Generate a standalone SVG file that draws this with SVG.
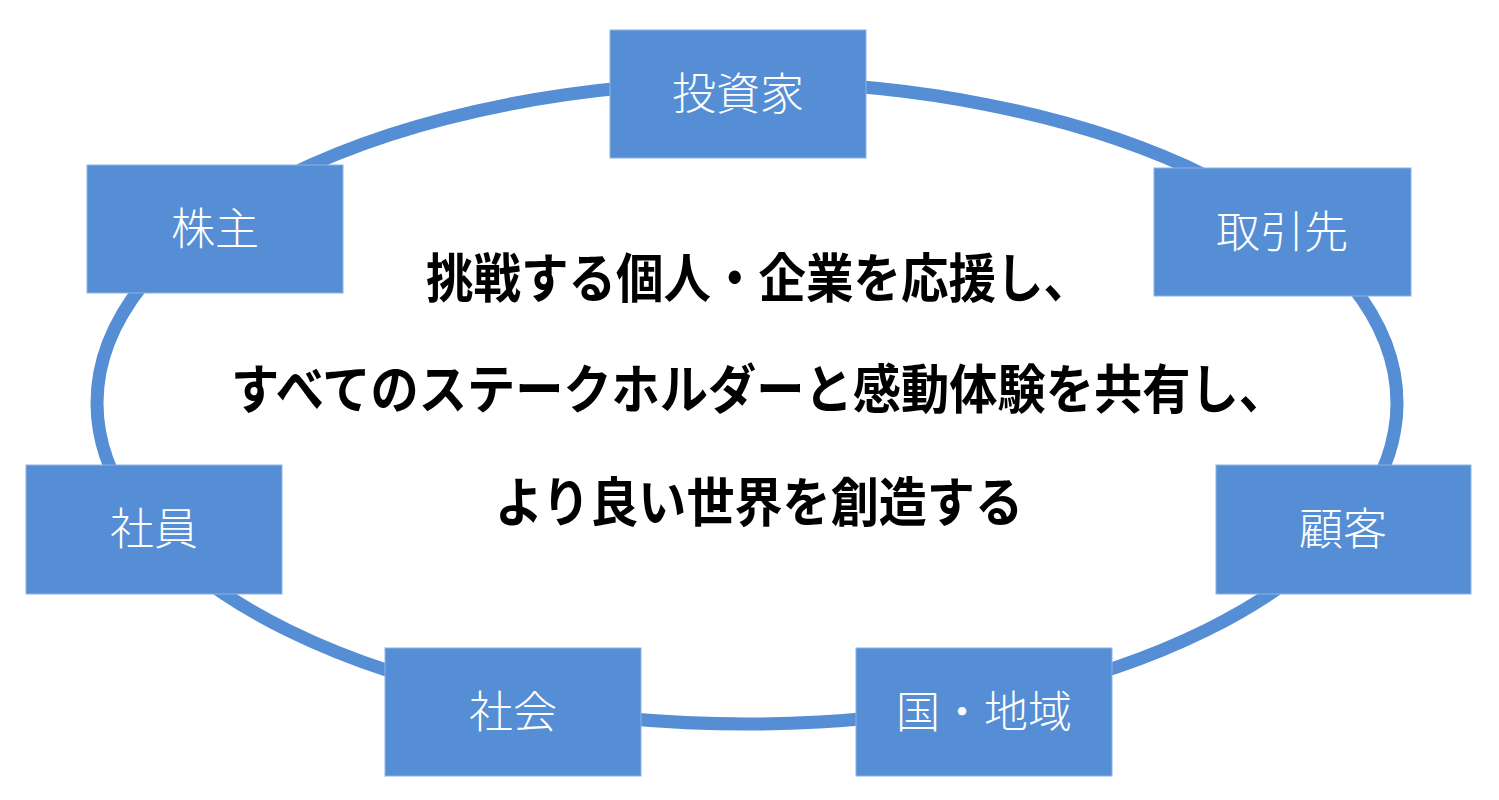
<svg xmlns="http://www.w3.org/2000/svg" width="1499" height="800" viewBox="0 0 1499 800">
<style>
.box{fill:#558ED5;stroke:#8DB3E6;stroke-width:1}
.lbl{fill:#FFFFFF;font-family:"Noto Sans CJK JP","Noto Sans",sans-serif;font-size:44px;font-weight:300;text-anchor:middle}
.msg{fill:#000000;font-family:"Noto Sans CJK JP",sans-serif;font-size:53px;font-weight:700}
</style>
<rect width="1499" height="800" fill="#FFFFFF"/>
<g id="connectors">
<ellipse cx="747" cy="403" rx="650" ry="321" fill="none" stroke="#558ED5" stroke-width="13"/>
</g>
<g id="node-investor"><rect class="box" x="610" y="30" width="256" height="128"/><text class="lbl" x="738" y="110">投資家</text></g>
<g id="node-shareholder"><rect class="box" x="87" y="165" width="256" height="128"/><text class="lbl" x="215" y="245">株主</text></g>
<g id="node-partner"><rect class="box" x="1154" y="168" width="257" height="128"/><text class="lbl" x="1282" y="248">取引先</text></g>
<g id="node-employee"><rect class="box" x="26" y="465" width="256" height="129"/><text class="lbl" x="154" y="545">社員</text></g>
<g id="node-customer"><rect class="box" x="1216" y="465" width="255" height="129"/><text class="lbl" x="1343" y="545">顧客</text></g>
<g id="node-society"><rect class="box" x="385" y="648" width="256" height="128"/><text class="lbl" x="513" y="728">社会</text></g>
<g id="node-region"><rect class="box" x="856" y="648" width="256" height="128"/><text class="lbl" x="984" y="728">国・地域</text></g>
<g id="center-message">
<text class="msg" x="426" y="298" textLength="665" lengthAdjust="spacingAndGlyphs">挑戦する個人・企業を応援し、</text>
<text class="msg" x="231" y="409" textLength="1056" lengthAdjust="spacingAndGlyphs">すべてのステークホルダーと感動体験を共有し、</text>
<text class="msg" x="495" y="522" textLength="528" lengthAdjust="spacingAndGlyphs">より良い世界を創造する</text>
</g>
</svg>
